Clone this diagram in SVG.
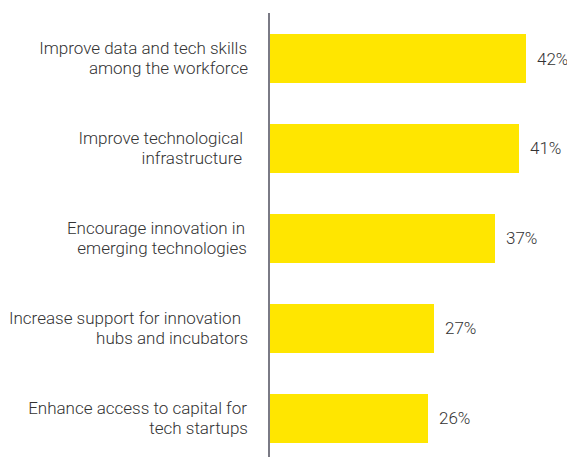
<svg xmlns="http://www.w3.org/2000/svg" width="567" height="457" viewBox="0 0 567 457">
<style>
.bar{fill:#FFE600}
.lbl{font-family:Roboto,"Liberation Sans",sans-serif;font-weight:300;font-size:17px;fill:#333333;text-anchor:end}
.val{font-family:Roboto,"Liberation Sans",sans-serif;font-weight:300;font-size:17px;fill:#333333}
</style>
<rect width="567" height="457" fill="#ffffff"/>
<g id="bar1">
<rect class="bar" x="270" y="34" width="256" height="49"/>
<text class="lbl" x="247" y="54">Improve data and tech skills</text>
<text class="lbl" x="248" y="74">among the workforce</text>
<text class="val" x="537" y="65">42%</text>
</g>
<g id="bar2">
<rect class="bar" x="270" y="124" width="249" height="49"/>
<text class="lbl" x="243" y="144">Improve technological</text>
<text class="lbl" x="242" y="164">infrastructure</text>
<text class="val" x="530" y="154">41%</text>
</g>
<g id="bar3">
<rect class="bar" x="270" y="214" width="225" height="49"/>
<text class="lbl" x="245" y="234">Encourage innovation in</text>
<text class="lbl" x="247" y="254">emerging technologies</text>
<text class="val" x="506" y="244">37%</text>
</g>
<g id="bar4">
<rect class="bar" x="270" y="304" width="164" height="49"/>
<text class="lbl" x="241" y="324">Increase support for innovation</text>
<text class="lbl" x="248" y="344">hubs and incubators</text>
<text class="val" x="445" y="334">27%</text>
</g>
<g id="bar5">
<rect class="bar" x="270" y="394" width="158" height="49"/>
<text class="lbl" x="247" y="414">Enhance access to capital for</text>
<text class="lbl" x="248" y="434">tech startups</text>
<text class="val" x="439" y="424">26%</text>
</g>
<g id="connectors">
<line x1="269" y1="13" x2="269" y2="457" stroke="#7a7a85" stroke-width="2"/>
</g>
</svg>
